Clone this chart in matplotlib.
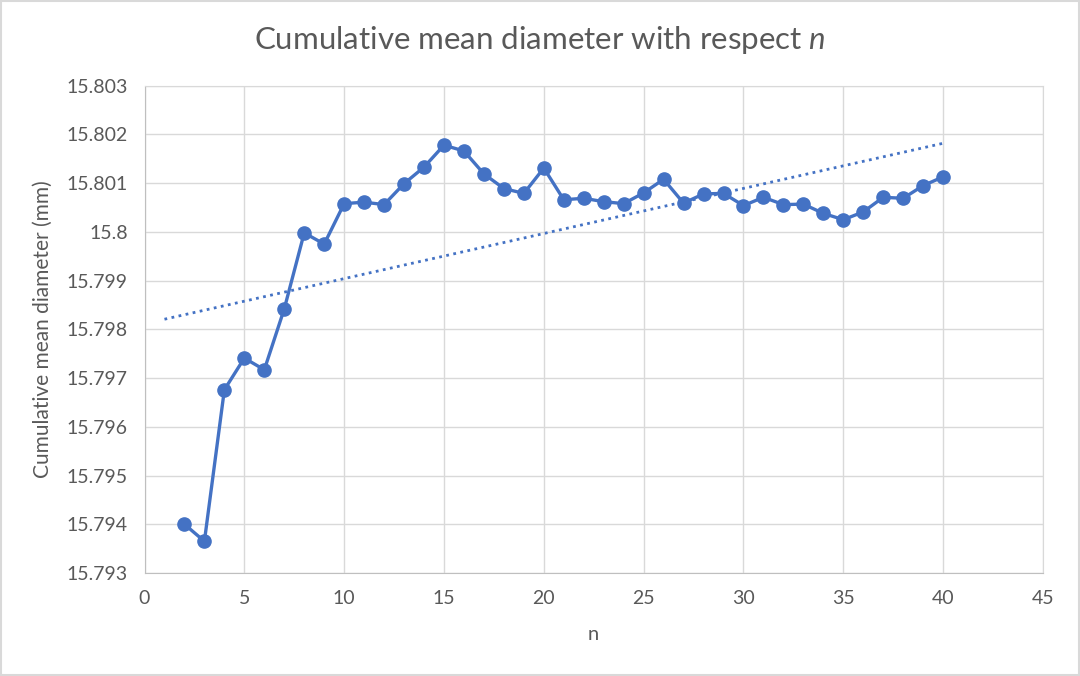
import matplotlib

matplotlib.use("Agg")
import matplotlib.pyplot as plt
import numpy as np
from matplotlib.patches import Rectangle
from matplotlib.ticker import FuncFormatter, MultipleLocator

plt.rcParams["font.family"] = ["Lato", "DejaVu Sans"]
plt.rcParams["mathtext.fontset"] = "custom"
plt.rcParams["mathtext.rm"] = "Lato"
plt.rcParams["mathtext.it"] = "Lato:italic"

# Cumulative mean diameter for sample size n
n_values = list(range(2, 41))
mean_diameter = [
    15.79400, 15.79365, 15.79676, 15.79741, 15.79717, 15.79842, 15.79998,
    15.79975, 15.80058, 15.80061, 15.80056, 15.80099, 15.80133, 15.80178,
    15.80166, 15.80119, 15.80089, 15.80079, 15.80131, 15.80066, 15.80069,
    15.80062, 15.80058, 15.80080, 15.80108, 15.80059, 15.80078, 15.80079,
    15.80054, 15.80071, 15.80056, 15.80057, 15.80038, 15.80025, 15.80041,
    15.80071, 15.80069, 15.80095, 15.80113,
]

BLUE = "#4472C4"
GREY_TEXT = "#595959"
GRID = "#D9D9D9"

fig = plt.figure(figsize=(10.8, 6.76), dpi=100)
ax = fig.add_axes([0.1338, 0.1524, 0.8319, 0.7208])

# Linear trendline (least squares), extended back to n = 1
slope, intercept = np.polyfit(n_values, mean_diameter, 1)
trend_x = np.array([1, n_values[-1]])
ax.plot(trend_x, slope * trend_x + intercept, color=BLUE, linewidth=2,
        linestyle=(0, (1, 1.6)), zorder=2)

ax.plot(n_values, mean_diameter, color=BLUE, linewidth=2.4, marker="o",
        markersize=9.5, zorder=3)

ax.set_xlim(0, 45)
ax.set_ylim(15.793, 15.803)
ax.xaxis.set_major_locator(MultipleLocator(5))
ax.yaxis.set_major_locator(MultipleLocator(0.001))
ax.yaxis.set_major_formatter(
    FuncFormatter(lambda v, _: f"{v:.3f}".rstrip("0").rstrip("."))
)
ax.grid(True, color=GRID, linewidth=1)
ax.set_axisbelow(True)
for spine in ax.spines.values():
    spine.set_color(GRID)
ax.spines["left"].set_color("#BFBFBF")
ax.spines["bottom"].set_color("#BFBFBF")
ax.tick_params(length=0, labelsize=14, labelcolor=GREY_TEXT, pad=12)

ax.set_xlabel("n", fontsize=14.5, color=GREY_TEXT, labelpad=14)
ax.set_ylabel("Cumulative mean diameter (mm)", fontsize=15, color=GREY_TEXT,
              labelpad=10)
fig.text(0.5, 0.941, r"Cumulative mean diameter with respect $n$",
         ha="center", va="center", fontsize=22.5, color=GREY_TEXT)

fig.patches.append(Rectangle((0.001, 0.001), 0.998, 0.998, transform=fig.transFigure,
                             fill=False, edgecolor=GRID, linewidth=1.5))

fig.savefig("out.png", dpi=100)
